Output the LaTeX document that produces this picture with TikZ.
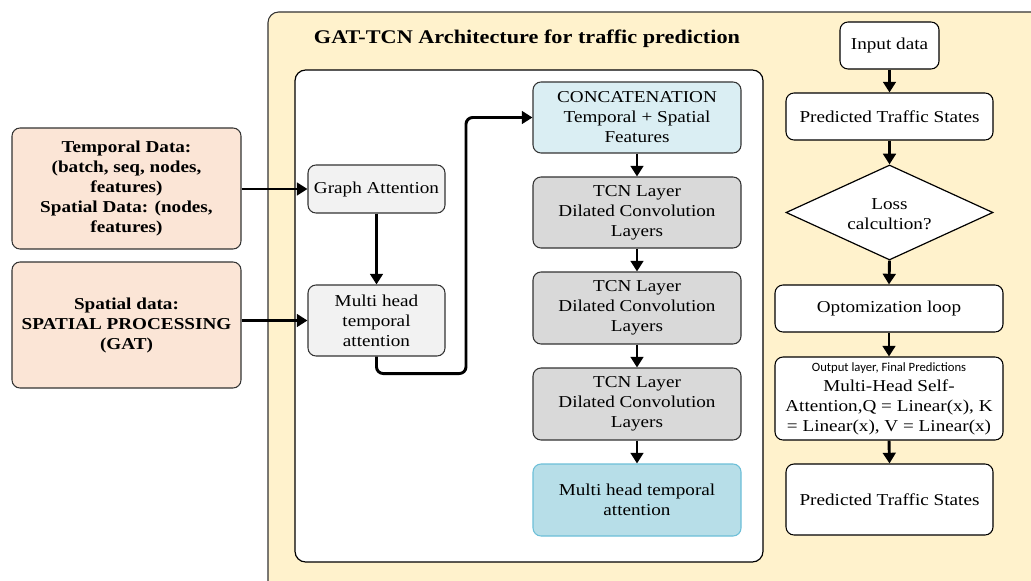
\documentclass[tikz,border=0pt]{standalone}
\usepackage{fontspec}
\setmainfont{Liberation Serif}[FakeStretch=1.15]
\newfontfamily\uisans{Carlito}
\usetikzlibrary{shapes.geometric,arrows.meta,calc}
\def\pxu{0.75pt}
\definecolor{panelfill}{HTML}{FFF2CC}
\definecolor{peach}{HTML}{FBE5D6}
\definecolor{lightgrey}{HTML}{F2F2F2}
\definecolor{midgrey}{HTML}{D9D9D9}
\definecolor{paleblue}{HTML}{DAEEF3}
\definecolor{tealfill}{HTML}{B7DEE8}
\definecolor{tealline}{HTML}{6CBFD8}
\definecolor{edge}{HTML}{333333}
\tikzset{
  box/.style={draw=edge, line width=0.8pt, rounded corners=6pt, align=center,
    inner sep=2pt, font=\fontsize{12.5}{15}\selectfont},
  inbox/.style={box, fill=peach, font=\fontsize{12.5}{15}\selectfont\bfseries},
  arr/.style={line width=2.2pt, -{Triangle[length=8pt,width=9.5pt]}},
}
\begin{document}
\begin{tikzpicture}[x=0.75pt, y=-0.75pt]
\useasboundingbox (0,0) rectangle (1031,581);
\begin{scope}
\clip (0,0) rectangle (1031,581);
% outer architecture panel
\draw[draw=edge, line width=0.8pt, fill=panelfill, rounded corners=8pt] (268,12) rectangle (1060,610);
\end{scope}
% inner model panel
\draw[draw=black, line width=0.9pt, fill=white, rounded corners=8pt] (295,70) rectangle (763,562);
\node[font=\fontsize{14.5}{17}\selectfont\bfseries] (title) at (527,39) {GAT-TCN Architecture for traffic prediction};

% inputs
\node[inbox, minimum width=229*\pxu, minimum height=121*\pxu] (tdata) at (126.5,188.5)
  {Temporal Data:\\(batch, seq, nodes,\\features)\\Spatial Data: (nodes,\\features)};
\node[inbox, minimum width=229*\pxu, minimum height=126*\pxu] (sdata) at (126.5,325)
  {Spatial data:\\SPATIAL PROCESSING\\(GAT)};

% graph attention branch
\node[box, fill=lightgrey, minimum width=137*\pxu, minimum height=48*\pxu] (ga) at (376.5,189) {Graph Attention};
\node[box, fill=lightgrey, minimum width=137*\pxu, minimum height=71*\pxu] (mh) at (376.5,320.5) {Multi head\\temporal\\attention};

% temporal convolution stack
\node[box, fill=paleblue, minimum width=208*\pxu, minimum height=71*\pxu] (concat) at (637,117.5) {CONCATENATION\\Temporal + Spatial\\Features};
\node[box, fill=midgrey, minimum width=208*\pxu, minimum height=71*\pxu] (tcn1) at (637,212.5) {TCN Layer\\Dilated Convolution\\Layers};
\node[box, fill=midgrey, minimum width=208*\pxu, minimum height=72*\pxu] (tcn2) at (637,308) {TCN Layer\\Dilated Convolution\\Layers};
\node[box, fill=midgrey, minimum width=208*\pxu, minimum height=72*\pxu] (tcn3) at (637,404) {TCN Layer\\Dilated Convolution\\Layers};
\node[box, draw=tealline, fill=tealfill, minimum width=208*\pxu, minimum height=72*\pxu] (mht) at (637,500) {Multi head temporal\\attention};

% training flow
\node[box, draw=black, fill=white, minimum width=99*\pxu, minimum height=47*\pxu] (inp) at (889.5,45.5) {Input data};
\node[box, draw=black, fill=white, minimum width=207*\pxu, minimum height=47*\pxu] (pts1) at (889.5,116.5) {Predicted Traffic States};
\node[diamond, draw=black, line width=0.9pt, fill=white, inner sep=0pt, shape aspect=2.18,
  minimum width=207*\pxu, minimum height=95*\pxu] (loss) at (889.5,212.5) {};
\node[align=center, font=\fontsize{12.5}{15}\selectfont] (losstext) at (889.5,214) {Loss\\calcultion?};
\node[box, draw=black, fill=white, minimum width=228*\pxu, minimum height=47*\pxu] (opt) at (889,308.5) {Optomization loop};
\node[box, draw=black, fill=white, minimum width=228*\pxu, minimum height=83*\pxu] (outl) at (889,398.5)
  {{\uisans\fontsize{9.5}{12}\selectfont Output layer, Final Predictions}\\Multi-Head Self-\\Attention,Q = Linear(x), K\\= Linear(x), V = Linear(x)};
\node[box, draw=black, fill=white, minimum width=207*\pxu, minimum height=71*\pxu] (pts2) at (889.5,499.5) {Predicted Traffic States};

% connectors
\draw[arr] (tdata.east |- ga.west) -- (ga.west);
\draw[arr] (sdata.east |- mh.west) -- (mh.west);
\draw[arr] (ga.south) -- (mh.north);
\coordinate (riser) at (466,117.5);
\draw[arr, rounded corners=5pt] (mh.south) -- ++(0,17) -| (riser) -- (concat.west);
\draw[arr] (concat.south) -- (tcn1.north);
\draw[arr] (tcn1.south) -- (tcn2.north);
\draw[arr] (tcn2.south) -- (tcn3.north);
\draw[arr] (tcn3.south) -- (mht.north);
\draw[arr] (inp.south) -- (pts1.north);
\draw[arr] (pts1.south) -- (loss.north);
\draw[arr] (loss.south) -- (opt.north);
\draw[arr] (opt.south) -- (outl.north);
\draw[arr] (outl.south) -- (pts2.north);
\end{tikzpicture}
\end{document}
